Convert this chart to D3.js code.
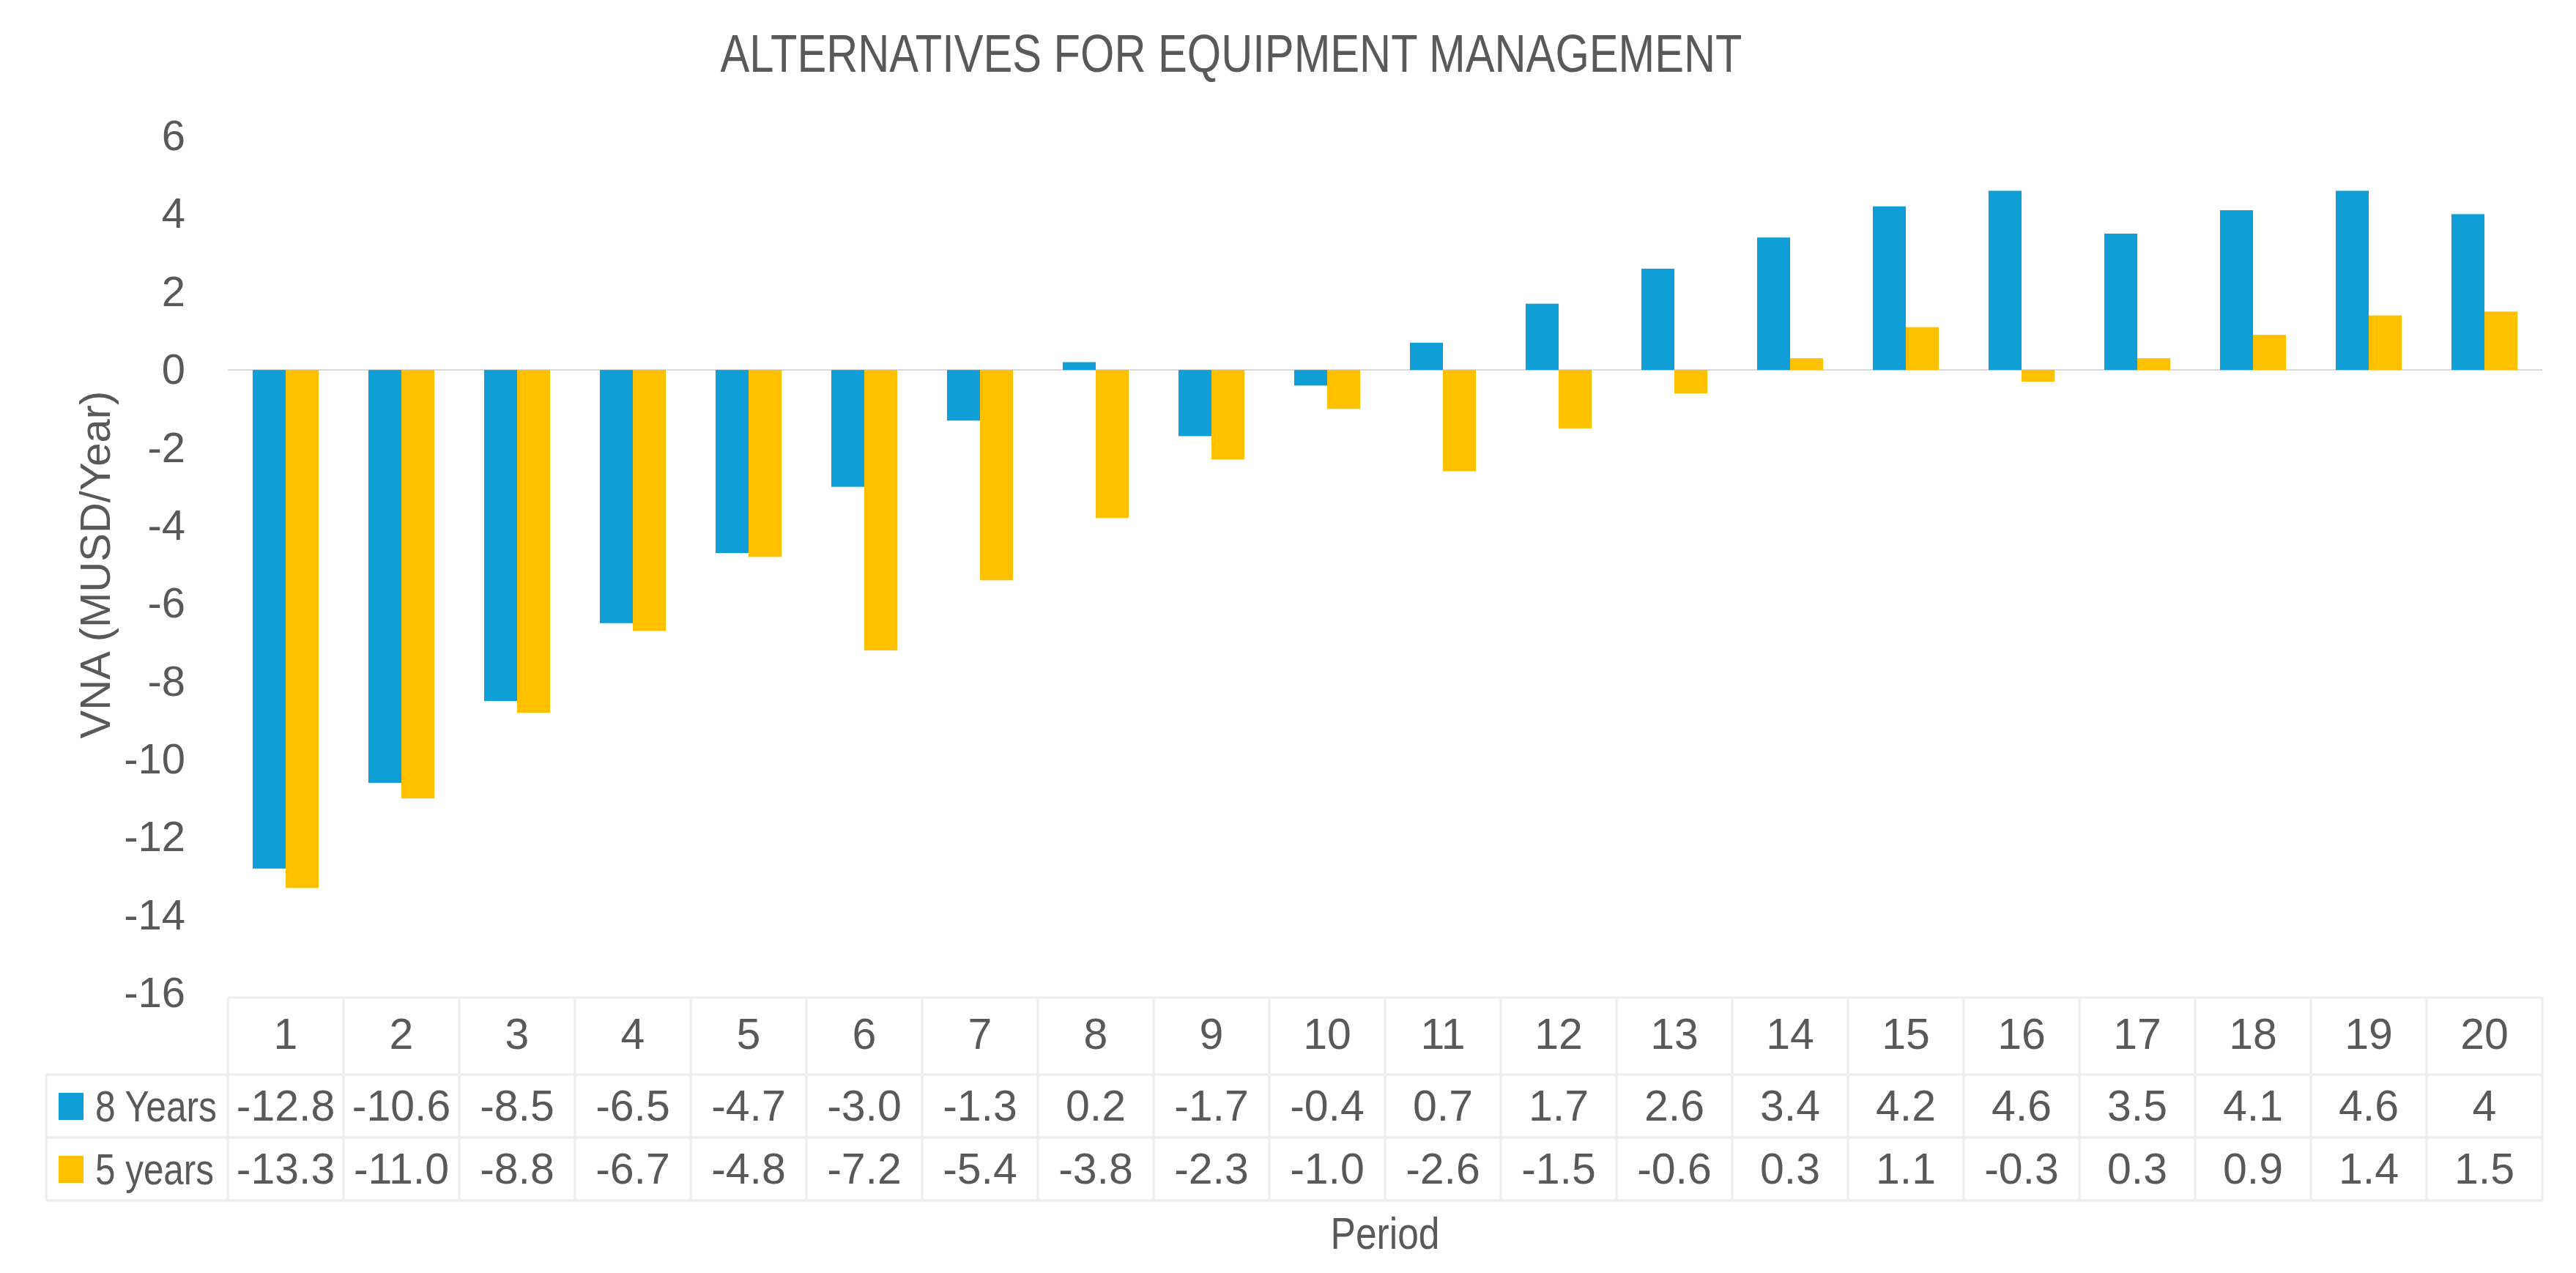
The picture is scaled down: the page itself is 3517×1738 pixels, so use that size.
<!DOCTYPE html>
<html>
<head>
<meta charset="utf-8">
<script src="https://cdn.jsdelivr.net/npm/d3@7"></script>
<style>
  body { margin: 0; background: #fff; }
  text { fill: #595959; }
</style>
</head>
<body>
<svg width="3517" height="1738"></svg>
<script>
// Data (as written in the chart's data table)
const periods = ["1","2","3","4","5","6","7","8","9","10","11","12","13","14","15","16","17","18","19","20"];
const seriesNames = ["8 Years", "5 years"];
const eightYears = ["-12.8","-10.6","-8.5","-6.5","-4.7","-3.0","-1.3","0.2","-1.7","-0.4","0.7","1.7","2.6","3.4","4.2","4.6","3.5","4.1","4.6","4"];
const fiveYears = ["-13.3","-11.0","-8.8","-6.7","-4.8","-7.2","-5.4","-3.8","-2.3","-1.0","-2.6","-1.5","-0.6","0.3","1.1","-0.3","0.3","0.9","1.4","1.5"];
const yTicks = [6, 4, 2, 0, -2, -4, -6, -8, -10, -12, -14, -16];
const colors = ["#0F9ED5", "#FFC000"];

const font = "'Liberation Sans', Arial, sans-serif";

// The svg
const svg = d3.select("svg");
const plotLeft = 311, plotRight = 3471, plotTop = 186, plotBottom = 1356;

// Scales
const y = d3.scaleLinear().domain([-16, 6]).range([plotBottom, plotTop]);
const xCell = d3.scaleBand().domain(periods).range([plotLeft, plotRight]);
const x0 = d3.scaleBand().domain(periods).range([plotLeft, plotRight])
  .paddingInner(0.43).paddingOuter(0.215);
const x1 = d3.scaleBand().domain(seriesNames).range([0, x0.bandwidth()]);

const rows = periods.map((p, i) => ({
  period: p,
  values: [
    { name: seriesNames[0], v: +eightYears[i] },
    { name: seriesNames[1], v: +fiveYears[i] }
  ]
}));

// narrow-looking text (no condensed font installed, so squeeze it)
function narrowText(sel, width) {
  return sel.attr("textLength", width).attr("lengthAdjust", "spacingAndGlyphs");
}

// Title
svg.append("text")
  .attr("x", 1681).attr("y", 98)
  .attr("text-anchor", "middle")
  .style("font-family", font).style("font-size", "72px")
  .text("ALTERNATIVES FOR EQUIPMENT MANAGEMENT")
  .call(narrowText, 1395);

// Zero line
svg.append("line")
  .attr("x1", plotLeft).attr("x2", plotRight)
  .attr("y1", y(0)).attr("y2", y(0))
  .attr("stroke", "#D9D9D9").attr("stroke-width", 2);

// Y axis
const yAxis = svg.append("g")
  .attr("transform", `translate(${plotLeft},0)`)
  .call(d3.axisLeft(y).tickValues(yTicks).tickSize(0).tickPadding(58).tickFormat(d => String(d)));
yAxis.select(".domain").remove();
yAxis.selectAll("text")
  .style("font-family", font).style("font-size", "58px").attr("fill", "#595959");

svg.append("text")
  .attr("transform", `translate(135,${(plotTop + plotBottom) / 2}) rotate(-90)`)
  .attr("text-anchor", "middle").attr("dominant-baseline", "middle")
  .style("font-family", font).style("font-size", "58px")
  .text("VNA (MUSD/Year)");

// Bars
svg.append("g")
  .selectAll("g")
  .data(rows)
  .enter()
  .append("g")
  .attr("transform", d => `translate(${x0(d.period)},0)`)
  .selectAll("rect")
  .data(d => d.values)
  .enter()
  .append("rect")
  .attr("x", d => x1(d.name))
  .attr("width", x1.bandwidth())
  .attr("y", d => y(Math.max(0, d.v)))
  .attr("height", d => Math.abs(y(d.v) - y(0)))
  .attr("fill", (d, i) => colors[i]);

// Data table
const tableTop = plotBottom + 6, headBottom = 1467, row1Bottom = 1553, tableBottom = 1639;
const legendLeft = 63;
const grid = svg.append("g").attr("stroke", "#EDEDED").attr("stroke-width", 3);

grid.append("line").attr("x1", plotLeft).attr("x2", plotRight).attr("y1", tableTop).attr("y2", tableTop);
[headBottom, row1Bottom, tableBottom].forEach(yy => {
  grid.append("line").attr("x1", legendLeft).attr("x2", plotRight).attr("y1", yy).attr("y2", yy);
});
periods.concat(["end"]).forEach(p => {
  const xx = p === "end" ? plotRight : xCell(p);
  grid.append("line").attr("x1", xx).attr("x2", xx).attr("y1", tableTop).attr("y2", tableBottom);
});
grid.append("line").attr("x1", legendLeft).attr("x2", legendLeft).attr("y1", headBottom).attr("y2", tableBottom);

const cellText = (g, yy, labels) => g.selectAll(null)
  .data(labels)
  .enter()
  .append("text")
  .attr("x", (d, i) => xCell(periods[i]) + xCell.bandwidth() / 2)
  .attr("y", yy)
  .attr("text-anchor", "middle")
  .attr("dominant-baseline", "central")
  .style("font-family", font).style("font-size", "59px")
  .text(d => d);

const table = svg.append("g");
cellText(table, 1412, periods);
cellText(table, 1510, eightYears);
cellText(table, 1596, fiveYears);

// Legend keys in the table
const keyWidths = [166, 162];
[1510, 1596].forEach((yy, i) => {
  table.append("rect")
    .attr("x", 80).attr("y", yy - 18)
    .attr("width", 34).attr("height", 37)
    .attr("fill", colors[i]);
  table.append("text")
    .attr("x", 130).attr("y", yy)
    .attr("dominant-baseline", "central")
    .style("font-family", font).style("font-size", "60px")
    .text(seriesNames[i])
    .call(narrowText, keyWidths[i]);
});

// X axis title
svg.append("text")
  .attr("x", (plotLeft + plotRight) / 2).attr("y", 1705)
  .attr("text-anchor", "middle")
  .style("font-family", font).style("font-size", "62px")
  .text("Period")
  .call(narrowText, 149);
</script>
</body>
</html>
